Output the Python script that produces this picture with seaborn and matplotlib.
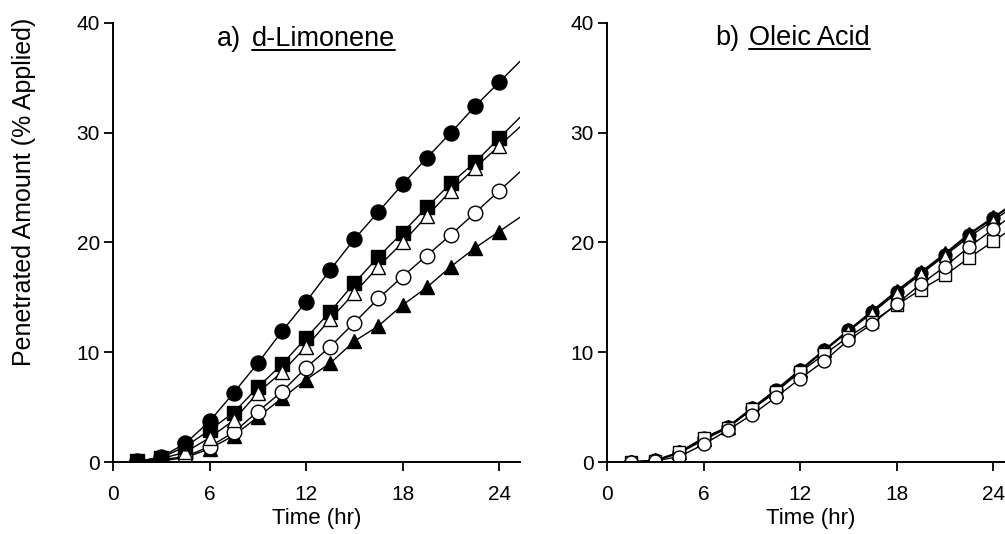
import numpy as np
import matplotlib
matplotlib.use("Agg")
import matplotlib.pyplot as plt
import seaborn as sns
from matplotlib.lines import Line2D

# ---------------- data ----------------
time_hr = [1.5, 3, 4.5, 6, 7.5, 9, 10.5, 12, 13.5, 15, 16.5, 18, 19.5, 21, 22.5, 24]

# a) d-Limonene
lim_filled_circle = [0.05, 0.45, 1.7, 3.7, 6.3, 9.0, 11.9, 14.6, 17.5, 20.3, 22.8, 25.3, 27.7, 30.0, 32.4, 34.6]
lim_filled_square = [0.05, 0.4, 1.4, 2.9, 4.5, 6.8, 8.9, 11.3, 13.7, 16.3, 18.7, 20.9, 23.2, 25.4, 27.3, 29.5]
lim_open_triangle = [0.05, 0.3, 0.9, 2.2, 3.8, 6.3, 8.2, 10.5, 13.0, 15.4, 17.8, 20.0, 22.4, 24.7, 26.8, 28.8]
lim_open_circle = [0.0, 0.2, 0.5, 1.4, 2.7, 4.6, 6.4, 8.6, 10.5, 12.7, 14.9, 16.9, 18.8, 20.7, 22.7, 24.7]
lim_filled_triangle = [0.0, 0.1, 0.4, 1.2, 2.4, 4.1, 5.8, 7.5, 9.0, 11.0, 12.4, 14.3, 15.9, 17.8, 19.5, 21.0]

# b) Oleic Acid
ole_filled_circle = [0.0, 0.15, 0.9, 2.2, 3.2, 4.9, 6.6, 8.4, 10.2, 12.0, 13.7, 15.5, 17.2, 18.9, 20.7, 22.2]
ole_filled_triangle = [0.0, 0.15, 0.9, 2.1, 3.2, 4.9, 6.5, 8.4, 10.2, 12.0, 13.8, 15.6, 17.3, 19.0, 20.8, 22.3]
ole_open_triangle = [0.0, 0.1, 0.8, 2.0, 3.1, 4.8, 6.4, 8.3, 10.1, 11.9, 13.6, 15.4, 17.1, 18.8, 20.5, 22.0]
ole_open_square = [0.0, 0.1, 0.9, 2.2, 3.1, 4.8, 6.4, 8.2, 9.8, 11.4, 12.8, 14.3, 15.7, 17.0, 18.6, 20.1]
ole_open_circle = [0.0, 0.1, 0.5, 1.6, 2.9, 4.3, 5.9, 7.6, 9.2, 11.1, 12.6, 14.4, 16.2, 17.8, 19.6, 21.2]

x_ticks = [0, 6, 12, 18, 24]
y_ticks = [0, 10, 20, 30, 40]
x_label = "Time (hr)"
y_label = "Penetrated Amount (% Applied)"
title_a = ("a)", "d-Limonene")
title_b = ("b)", "Oleic Acid")

# ---------------- style ----------------
sns.set_style("ticks")
plt.rcParams["font.family"] = ["Liberation Sans", "DejaVu Sans"]
plt.rcParams["text.color"] = "black"

W, H = 1005, 534
fig = plt.figure(figsize=(W / 100, H / 100), dpi=100)


def px_axes(x0, y_top, x1, y_bot):
    return fig.add_axes([x0 / W, (H - y_bot) / H, (x1 - x0) / W, (y_bot - y_top) / H])


ax_a = px_axes(113, 23, 520, 462)
ax_b = px_axes(607, 23, 1014, 462)

XMAX = 25.3


def draw_series(ax, t, y, marker, filled, ms):
    t = np.asarray(t, dtype=float)
    y = np.asarray(y, dtype=float)
    # extend the fitted line a little past the last point using last slope
    slope = (y[-1] - y[-2]) / (t[-1] - t[-2])
    tl = np.append(t, XMAX)
    yl = np.append(y, y[-1] + slope * (XMAX - t[-1]))
    sns.lineplot(x=tl, y=yl, ax=ax, color="black", linewidth=1.0,
                 sort=False, estimator=None, legend=False)
    sns.lineplot(x=t, y=y, ax=ax, color="black", linestyle="", marker=marker,
                 markersize=ms, markerfacecolor="black" if filled else "white",
                 markeredgecolor="black", markeredgewidth=1.0,
                 sort=False, estimator=None, legend=False)


# a) d-Limonene
draw_series(ax_a, time_hr, lim_filled_triangle, "^", True, 10.5)
draw_series(ax_a, time_hr, lim_open_circle, "o", False, 10.5)
draw_series(ax_a, time_hr, lim_filled_square, "s", True, 9.8)
draw_series(ax_a, time_hr, lim_open_triangle, "^", False, 10.5)
draw_series(ax_a, time_hr, lim_filled_circle, "o", True, 10.8)

# b) Oleic Acid
draw_series(ax_b, time_hr, ole_filled_circle, "o", True, 9.3)
draw_series(ax_b, time_hr, ole_filled_triangle, "^", True, 9.5)
draw_series(ax_b, time_hr, ole_open_triangle, "^", False, 8.5)
draw_series(ax_b, time_hr, ole_open_square, "s", False, 8.5)
draw_series(ax_b, time_hr, ole_open_circle, "o", False, 9.3)

for ax in (ax_a, ax_b):
    ax.set_xlim(0, XMAX)
    ax.set_ylim(0, 40)
    ax.set_xticks(x_ticks)
    ax.set_yticks(y_ticks)
    ax.set_xticklabels([str(v) for v in x_ticks])
    ax.set_yticklabels([str(v) for v in y_ticks])
    ax.tick_params(axis="both", direction="out", length=6.5, width=1.3,
                   labelsize=15, color="black", labelcolor="black")
    ax.tick_params(axis="y", pad=3)
    ax.tick_params(axis="x", pad=10)
    for s in ("top", "right"):
        ax.spines[s].set_visible(False)
    for s in ("left", "bottom"):
        ax.spines[s].set_linewidth(1.4)
        ax.spines[s].set_color("black")
        ax.spines[s].set_clip_on(False)
    ax.set_xlabel(x_label, fontsize=16, labelpad=3, color="black")
    ax.set_ylabel("")
    ax.set_facecolor("white")

fig.text(24 / W, (H - 192) / H, y_label, rotation=90, fontsize=18,
         ha="center", va="center", color="black")


def underlined_title(prefix, body, x_prefix, x_body, baseline_px):
    yb = (H - baseline_px) / H
    fig.text(x_prefix / W, yb, prefix, fontsize=19.5, ha="left", va="baseline",
             color="black")
    tb = fig.text(x_body / W, yb, body, fontsize=19.5, ha="left", va="baseline",
                  color="black")
    fig.canvas.draw()
    bb = tb.get_window_extent(fig.canvas.get_renderer())
    uy = (H - baseline_px - 4) / H
    fig.add_artist(Line2D([bb.x0 / W, bb.x1 / W], [uy, uy], transform=fig.transFigure,
                          color="black", linewidth=1.4))


underlined_title(title_a[0], title_a[1], 217, 252, 46)
underlined_title(title_b[0], title_b[1], 715, 749, 45)

fig.savefig("out.png", dpi=100, facecolor="white")
